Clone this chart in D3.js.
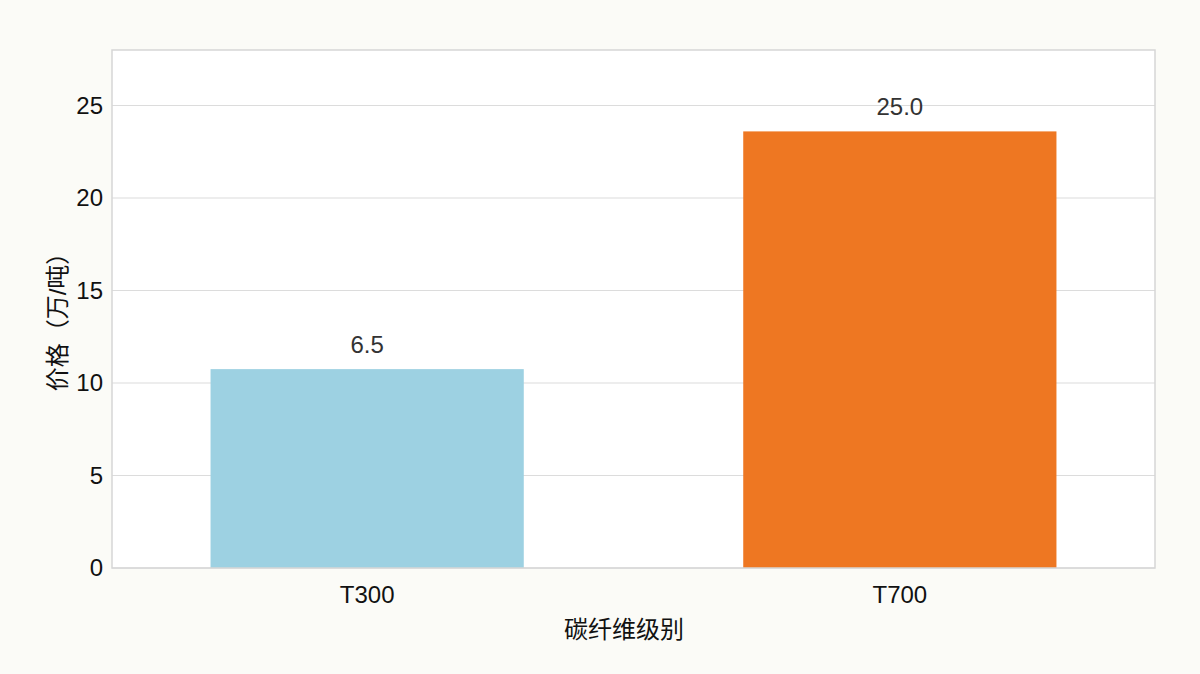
<!DOCTYPE html>
<html>
<head>
<meta charset="utf-8">
<script src="https://cdn.jsdelivr.net/npm/d3@7"></script>
<style>
  body { margin: 0; background: #fbfbf7; }
  text { font-family: "Liberation Sans", "Noto Sans CJK SC", sans-serif; }
</style>
</head>
<body>
<script>
// 碳纤维级别 / 价格
const categories = ["T300", "T700"];
const barValues = [10.75, 23.6];       // bar heights as drawn
const labelTexts = ["6.5", "25.0"];    // labels as printed
const yTicks = [0, 5, 10, 15, 20, 25];
const colors = ["#9dd1e2", "#ee7722"];

const w = 1200;
const h = 674;
const margin = { top: 50, right: 45, bottom: 106, left: 112 };

const svg = d3.select("body").append("svg").attr("width", w).attr("height", h);

svg.append("rect").attr("width", w).attr("height", h).attr("fill", "#fbfbf7");

const xScale = d3
  .scaleBand()
  .domain(categories)
  .range([margin.left, w - margin.right])
  .paddingInner(0.412)
  .paddingOuter(0.185);

const yScale = d3
  .scaleLinear()
  .domain([0, 28])
  .range([h - margin.bottom, margin.top]);

// plot background
svg
  .append("rect")
  .attr("x", margin.left)
  .attr("y", margin.top)
  .attr("width", w - margin.left - margin.right)
  .attr("height", h - margin.top - margin.bottom)
  .attr("fill", "#ffffff");

// gridlines
svg
  .selectAll("line.grid")
  .data(yTicks)
  .enter()
  .append("line")
  .attr("class", "grid")
  .attr("x1", margin.left)
  .attr("x2", w - margin.right)
  .attr("y1", d => yScale(d))
  .attr("y2", d => yScale(d))
  .attr("stroke", "#dcdcdc")
  .attr("stroke-width", 1.2);

// bars
svg
  .selectAll("rect.bar")
  .data(categories)
  .enter()
  .append("rect")
  .attr("class", "bar")
  .attr("x", d => xScale(d))
  .attr("width", xScale.bandwidth())
  .attr("y", (d, i) => yScale(barValues[i]))
  .attr("height", (d, i) => yScale(0) - yScale(barValues[i]))
  .attr("fill", (d, i) => colors[i]);

// frame
svg
  .append("rect")
  .attr("x", margin.left)
  .attr("y", margin.top)
  .attr("width", w - margin.left - margin.right)
  .attr("height", h - margin.top - margin.bottom)
  .attr("fill", "none")
  .attr("stroke", "#d6d6d6")
  .attr("stroke-width", 1.5);

// value labels
svg
  .selectAll("text.val")
  .data(categories)
  .enter()
  .append("text")
  .attr("class", "val")
  .attr("x", d => xScale(d) + xScale.bandwidth() / 2)
  .attr("y", (d, i) => yScale(barValues[i]) - 16)
  .attr("text-anchor", "middle")
  .attr("font-size", "24px")
  .attr("fill", "#333")
  .text((d, i) => labelTexts[i]);

// y axis
const yAxis = d3.axisLeft(yScale).tickValues(yTicks).tickSize(0).tickPadding(9);
const gy = svg.append("g").attr("transform", `translate(${margin.left},0)`).call(yAxis);
gy.select(".domain").remove();
gy.selectAll("text").attr("font-size", "24px").attr("fill", "#111").style("font-family", "Liberation Sans, sans-serif");

// x axis
const xAxis = d3.axisBottom(xScale).tickSize(0).tickPadding(18);
const gx = svg.append("g").attr("transform", `translate(0,${h - margin.bottom})`).call(xAxis);
gx.select(".domain").remove();
gx.selectAll("text").attr("font-size", "24px").attr("fill", "#111").style("font-family", "Liberation Sans, sans-serif");

// axis titles
svg
  .append("text")
  .attr("x", 624)
  .attr("y", 638)
  .attr("text-anchor", "middle")
  .attr("font-size", "24px")
  .attr("fill", "#111")
  .text("碳纤维级别");

svg
  .append("text")
  .attr("transform", "translate(66,316) rotate(-90)")
  .attr("text-anchor", "middle")
  .attr("font-size", "24px")
  .attr("fill", "#111")
  .text("价格（万/吨）");
</script>
</body>
</html>
